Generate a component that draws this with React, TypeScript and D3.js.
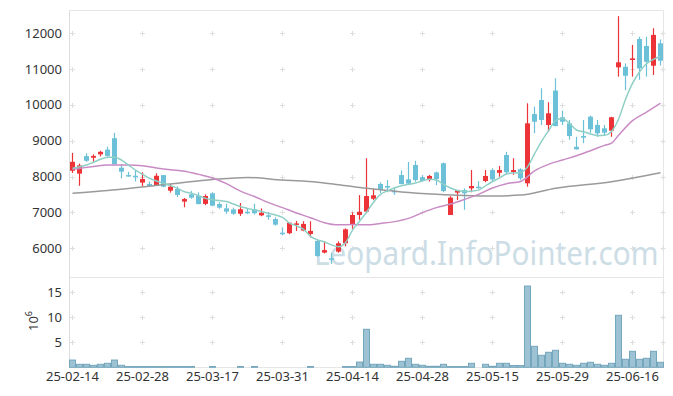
import React from "react";
import * as d3 from "d3";

// daily candles, 25-02-14 .. 25-06-20 (85 trading days)
const opens = [8160, 8080, 8570, 8525, 8620, 8750, 9070, 8245, 8040, 8020, 7830, 7790, 7745, 8040, 7605, 7650, 7300, 7500, 7460, 7235, 7530, 7230, 7110, 7080, 6960, 7015, 7085, 6915, 6915, 6810, 6430, 6415, 6655, 6490, 6395, 6200, 5875, 5715, 5900, 6135, 6645, 6925, 7020, 7380, 7790, 7735, 7600, 8040, 7920, 8320, 7980, 7930, 8115, 8370, 6925, 7550, 7620, 7670, 7715, 7875, 8180, 8105, 8600, 8125, 8200, 7810, 9745, 10135, 9440, 10400, 9655, 9485, 8830, 9130, 9670, 9440, 9345, 9280, 11050, 11065, 11255, 11840, 11645, 11095, 11720];
const highs = [8660, 8360, 8650, 8620, 8720, 8830, 9220, 8340, 8130, 8180, 8120, 7860, 8090, 8045, 7790, 7720, 7400, 7600, 7560, 7500, 7560, 7280, 7240, 7130, 7260, 7110, 7240, 7110, 7010, 6860, 6580, 6710, 6760, 6750, 6750, 6250, 6190, 5870, 6190, 6550, 7000, 7480, 8510, 7650, 7840, 7900, 7700, 8170, 8410, 8440, 8040, 8045, 8135, 8390, 7450, 7625, 7670, 8180, 7870, 8180, 8230, 8295, 8690, 8510, 8230, 10045, 9950, 10465, 10075, 10745, 9840, 9580, 9110, 9580, 9700, 9580, 9440, 9670, 12480, 11160, 11675, 11905, 11905, 12140, 11830];
const lows = [8100, 7740, 8410, 8410, 8560, 8550, 8330, 7950, 7990, 7860, 7720, 7735, 7740, 7700, 7550, 7430, 7140, 7380, 7220, 7200, 7170, 7100, 6960, 6930, 6900, 6950, 6940, 6890, 6790, 6630, 6360, 6390, 6480, 6470, 6300, 5760, 5850, 5560, 5870, 6050, 6540, 6790, 6975, 7340, 7540, 7560, 7490, 7780, 7760, 7855, 7855, 7860, 7760, 7560, 6925, 7340, 7070, 7560, 7660, 7840, 7850, 7995, 8050, 8050, 7900, 7715, 9210, 9440, 9250, 9400, 9440, 9030, 8750, 8930, 9220, 9110, 9140, 9110, 10790, 10415, 10790, 10700, 10790, 10835, 11100];
const closes = [8410, 8310, 8440, 8575, 8690, 8575, 8340, 8135, 8000, 7980, 7930, 7740, 8020, 7715, 7715, 7485, 7370, 7410, 7230, 7455, 7185, 7130, 7020, 6960, 7085, 6990, 6975, 6990, 6880, 6655, 6400, 6710, 6690, 6675, 6480, 5780, 5945, 5690, 6135, 6525, 6925, 7015, 7455, 7475, 7625, 7690, 7580, 7790, 7800, 7900, 7875, 8015, 7930, 7595, 7410, 7620, 7530, 7735, 7690, 8015, 7920, 8180, 8120, 8180, 7950, 9485, 9530, 9580, 9765, 9410, 9530, 9130, 8760, 9085, 9320, 9205, 9225, 9655, 11190, 10815, 11300, 11020, 11205, 11955, 11235];
// volume in 10^6 shares
const volumes = [1.45, 0.6, 0.6, 0.4, 0.6, 0.8, 1.45, 0.4, 0.15, 0.15, 0.15, 0.15, 0.15, 0.15, 0.15, 0.15, 0.15, 0.15, 0, 0, 0.15, 0, 0, 0, 0.15, 0, 0.15, 0, 0, 0, 0, 0, 0, 0, 0.15, 0, 0, 0, 0, 0.15, 0.15, 1.05, 7.6, 0.6, 0.6, 0.4, 0.2, 1.2, 1.8, 0.6, 0.4, 0.2, 0.2, 0.6, 0.15, 0.15, 0.15, 0.8, 0, 0.6, 0.2, 0.8, 0.8, 0.35, 0.35, 16.25, 4.2, 2.4, 3.0, 3.4, 0.8, 0.6, 0.4, 0.8, 1.0, 0.6, 0.4, 0.8, 10.4, 1.6, 3.2, 1.6, 1.8, 3.2, 1.0];

// moving averages
const ma5 = [8230, 8270, 8320, 8400, 8480, 8535, 8540, 8460, 8320, 8180, 8060, 7950, 7875, 7810, 7745, 7670, 7575, 7530, 7465, 7390, 7350, 7330, 7300, 7230, 7160, 7110, 7065, 7020, 6970, 6925, 6860, 6700, 6620, 6525, 6330, 6230, 6170, 6090, 6040, 6150, 6500, 6750, 7000, 7280, 7500, 7600, 7680, 7740, 7780, 7820, 7880, 7920, 7900, 7780, 7680, 7610, 7580, 7590, 7620, 7740, 7860, 7960, 8070, 8100, 8110, 8270, 8630, 8980, 9280, 9560, 9620, 9480, 9300, 9250, 9190, 9140, 9150, 9260, 9600, 10150, 10600, 10920, 11150, 11270, 11350];
const ma20: [number, number][] = [[0, 8200], [3, 8280], [5, 8320], [8, 8320], [10, 8300], [12, 8240], [14, 8190], [16, 8150], [18, 8060], [20, 7960], [22, 7800], [24, 7590], [26, 7440], [28, 7270], [30, 7130], [32, 6980], [34, 6850], [36, 6710], [38, 6650], [40, 6660], [42, 6650], [44, 6690], [46, 6740], [48, 6830], [50, 6990], [52, 7130], [54, 7230], [56, 7360], [58, 7500], [60, 7680], [62, 7800], [64, 7860], [66, 8160], [68, 8340], [70, 8460], [72, 8580], [74, 8720], [76, 8870], [77, 8930], [78, 9150], [80, 9560], [82, 9800], [84, 10045]];
const ma60: [number, number][] = [[0, 7530], [5, 7610], [10, 7710], [15, 7815], [20, 7915], [25, 7975], [30, 7900], [35, 7840], [38, 7770], [42, 7670], [47, 7570], [52, 7505], [56, 7470], [60, 7455], [64, 7480], [69, 7670], [77, 7855], [84, 8105]];

const xTickIdx = [0, 10, 20, 30, 40, 50, 60, 70, 80];
const xTickLabels = ["25-02-14", "25-02-28", "25-03-17", "25-03-31", "25-04-14", "25-04-28", "25-05-15", "25-05-29", "25-06-16"];
const priceTicks = [6000, 7000, 8000, 9000, 10000, 11000, 12000];
const volTicks = [5, 10, 15];

const W = 673;
const H = 396;
const LEFT = 69.5;
const RIGHT = 663.5;
const TOP = 10.5;
const MID = 277.5;
const BOTTOM = 367.5;

const UP = "#ec3338";
const DOWN = "#6cc0d8";
const FONT = "'Noto Sans', 'DejaVu Sans', sans-serif";

export default function App() {
  const x = d3.scaleLinear().domain([-0.4286, 84.4286]).range([LEFT, RIGHT]);
  const y = d3.scaleLinear().domain([5179, 12651]).range([MID, TOP - 0.5]);
  const yv = d3.scaleLinear().domain([0, 18]).range([BOTTOM - 0.2, MID - 0.2]);

  const line = d3
    .line<[number, number]>()
    .x((d) => x(d[0]))
    .y((d) => y(d[1]))
    .curve(d3.curveMonotoneX);

  const ma5Pts: [number, number][] = ma5.map((v, i) => [i, v]);

  // little "+" marks where grid lines would cross
  const crossXs = [...xTickIdx.map((i) => x(i)), RIGHT - 0.5];
  const crossYs = [...priceTicks.map((t) => y(t)), ...volTicks.map((t) => yv(t))];
  const crosses: JSX.Element[] = [];
  crossXs.forEach((cx, a) =>
    crossYs.forEach((cy, b) => {
      crosses.push(
        <path
          key={`c${a}-${b}`}
          d={`M${cx - 2.5},${Math.round(cy) + 0.5}H${cx + 2.5}M${cx},${Math.round(cy) - 2}V${Math.round(cy) + 3}`}
          stroke="#dedede"
          strokeWidth={1}
        />
      );
    })
  );

  const candles = opens.map((o, i) => {
    const c = closes[i];
    const cx = x(i);
    const up = c >= o;
    const col = up ? UP : DOWN;
    const top = y(Math.max(o, c));
    const h = Math.max(1.5, y(Math.min(o, c)) - top);
    return (
      <g key={i}>
        <line x1={cx} x2={cx} y1={y(highs[i])} y2={y(lows[i])} stroke={col} strokeWidth={1.2} />
        <rect x={cx - 2.5} y={top} width={5} height={h} fill={col} />
      </g>
    );
  });

  const volBars = volumes.map((v, i) =>
    v > 0 ? (
      <rect
        key={i}
        x={x(i) - 3}
        y={yv(v)}
        width={6}
        height={yv(0) - yv(v)}
        fill="#9dc2d3"
        stroke="#74a6bc"
        strokeWidth={1}
      />
    ) : null
  );

  return (
    <svg
      width={W}
      height={H}
      style={{ position: "absolute", left: 0, top: 0, background: "#fff" }}
      fontFamily={FONT}
    >
      {/* frame */}
      <path
        d={`M${LEFT},${TOP}H${RIGHT}V${BOTTOM}M${LEFT},${MID}H${RIGHT}M${LEFT},${BOTTOM}H${RIGHT}`}
        fill="none"
        stroke="#e6e6e6"
      />
      <line x1={LEFT} x2={LEFT} y1={TOP} y2={BOTTOM} stroke="#dcdcdc" />
      {crosses}

      {/* watermark */}
      <text
        transform="translate(314,265) scale(0.9,1)"
        fontSize={33}
        fill="#cddde6"
      >
        Leopard.InfoPointer.com
      </text>

      {volBars}
      {candles}

      <path d={line(ma60) ?? ""} fill="none" stroke="#9a9a9a" strokeWidth={1.5} />
      <path d={line(ma20) ?? ""} fill="none" stroke="#c98bc4" strokeWidth={1.5} />
      <path d={line(ma5Pts) ?? ""} fill="none" stroke="#8fd0c6" strokeWidth={1.5} />

      {/* price axis labels */}
      {priceTicks.map((t) => (
        <text key={t} x={62} y={y(t)} dy="0.35em" textAnchor="end" fontSize={13} fill="#333">
          {t}
        </text>
      ))}
      {/* volume axis labels */}
      {volTicks.map((t) => (
        <text key={t} x={62} y={yv(t)} dy="0.35em" textAnchor="end" fontSize={13} fill="#333">
          {t}
        </text>
      ))}
      <text transform="translate(38,321) rotate(-90)" textAnchor="middle" fontSize={13} fill="#333">
        10<tspan dy={-6} fontSize={9}>6</tspan>
      </text>

      {/* date labels */}
      {xTickIdx.map((i, k) => (
        <text key={i} x={x(i)} y={381} textAnchor="middle" fontSize={13} fill="#333">
          {xTickLabels[k]}
        </text>
      ))}
    </svg>
  );
}
